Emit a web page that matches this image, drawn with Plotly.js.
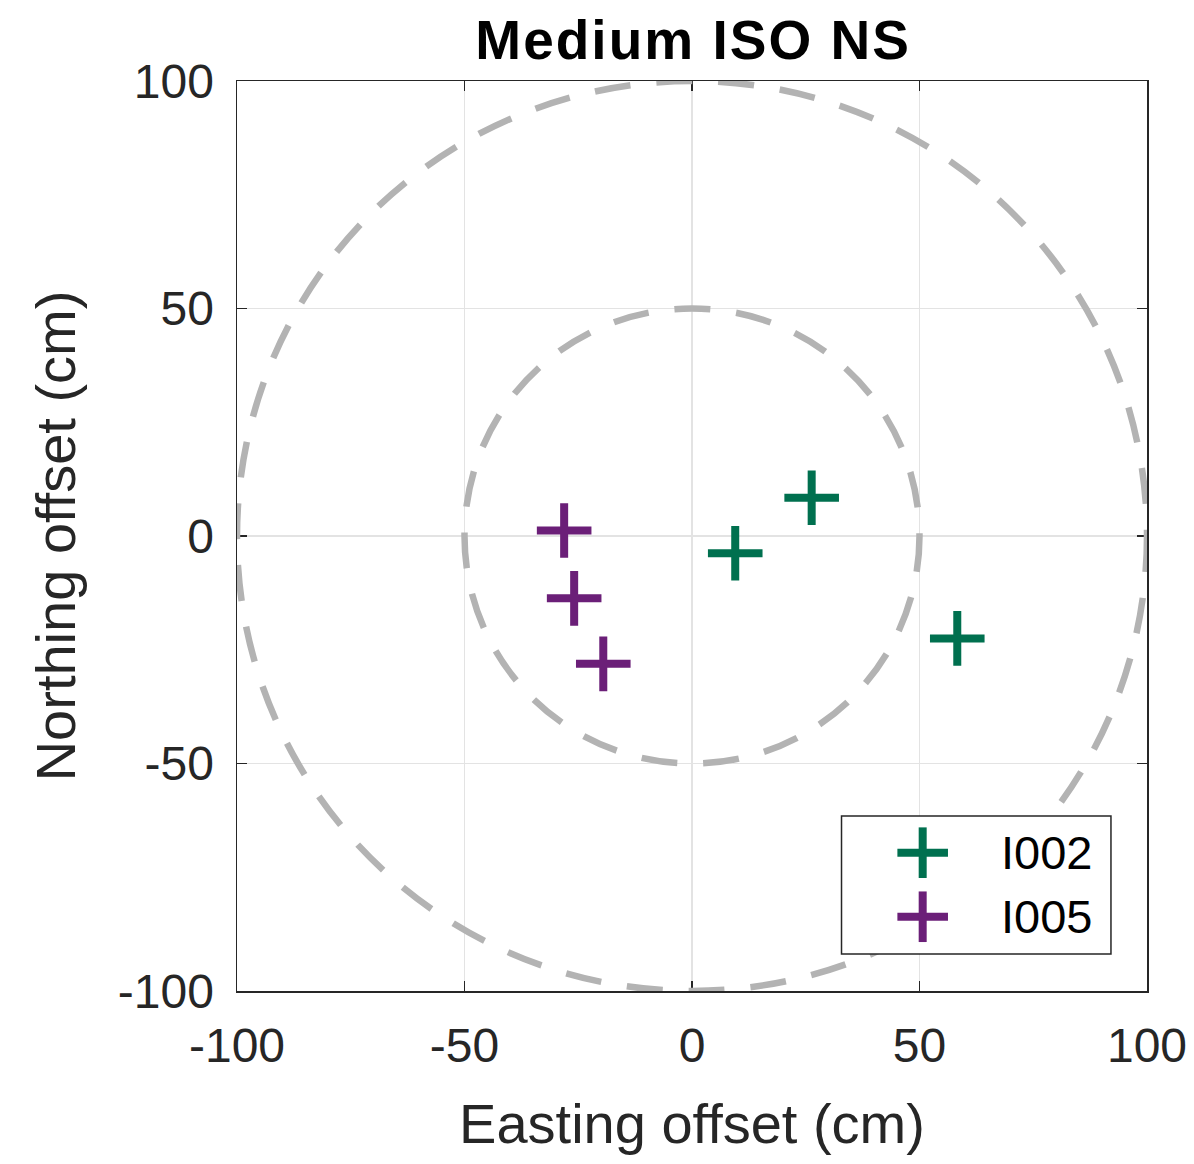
<!DOCTYPE html>
<html>
<head>
<meta charset="utf-8">
<script src="https://cdn.plot.ly/plotly-3.0.1.min.js"></script>
<style>
html,body{margin:0;padding:0;background:#fff;}
#chart{width:1194px;height:1164px;}
#chart .gtitle{letter-spacing:2px;}
</style>
</head>
<body>
<div id="chart"></div>
<script>
// Data
const seriesNames = ["I002", "I005"];
const i002East = [26.3, 9.5, 58.3];
const i002North = [8.4, -3.8, -22.5];
const i005East = [-28.1, -25.9, -19.5];
const i005North = [1.2, -13.7, -28.1];
const circleRadii = [50, 100];
const tickVals = [-100, -50, 0, 50, 100];
const tickText = ["-100", "-50", "0", "50", "100"];

const colors = ["#00704f", "#6b1f78"];
const font = "Liberation Sans, Arial, sans-serif";
const markerStyle = (c) => ({symbol: "cross-thin-open", size: 39, line: {color: c, width: 8}, color: c});

const traces = [
  {x: i002East, y: i002North, name: seriesNames[0], mode: "markers", type: "scatter", marker: markerStyle(colors[0]), showlegend: false},
  {x: i005East, y: i005North, name: seriesNames[1], mode: "markers", type: "scatter", marker: markerStyle(colors[1]), showlegend: false}
];

const shapes = circleRadii.map(r => ({
  type: "circle", xref: "x", yref: "y", x0: -r, x1: r, y0: -r, y1: r,
  line: {color: "#b3b3b3", width: 6.5, dash: "36px,26px"}, layer: "above"
}));

// Manual legend (box + large cross glyphs + labels), positioned in paper coordinates
const legendBox = {x0: 0.6643, x1: 0.9604, y0: 0.0407, y1: 0.1923};
const legendGlyphX = 0.7535, legendHalf = 0.0278, legendHalfY = 0.0278;
const legendRowsY = [0.1520, 0.0816];
const legendTextX = 0.8378;
const annotations = [];
shapes.push({type: "rect", xref: "paper", yref: "paper", x0: legendBox.x0, x1: legendBox.x1, y0: legendBox.y0, y1: legendBox.y1,
  line: {color: "#262626", width: 1.5}, fillcolor: "#fff", layer: "above"});
seriesNames.forEach((n, i) => {
  const yc = legendRowsY[i];
  shapes.push({type: "line", xref: "paper", yref: "paper", x0: legendGlyphX - legendHalf, x1: legendGlyphX + legendHalf, y0: yc, y1: yc, line: {color: colors[i], width: 8}, layer: "above"});
  shapes.push({type: "line", xref: "paper", yref: "paper", x0: legendGlyphX, x1: legendGlyphX, y0: yc - legendHalfY, y1: yc + legendHalfY, line: {color: colors[i], width: 8}, layer: "above"});
  annotations.push({xref: "paper", yref: "paper", x: legendTextX, y: yc, xanchor: "left", yanchor: "middle", showarrow: false,
    text: n, font: {family: font, size: 47, color: "#000"}});
});

const axisCommon = {
  range: [-100, 100], tickvals: tickVals, ticktext: tickText,
  showgrid: true, gridcolor: "#e3e3e3", gridwidth: 1.5,
  zeroline: false, showline: true, linecolor: "#262626", linewidth: 1.5, mirror: "ticks",
  ticks: "inside", ticklen: 10, tickwidth: 1.5, tickcolor: "#262626",
  tickfont: {family: font, size: 48, color: "#262626"}, fixedrange: true
};

const layout = {
  width: 1194, height: 1164,
  margin: {l: 237, r: 47, t: 81, b: 173},
  paper_bgcolor: "#fff", plot_bgcolor: "#fff",
  title: {text: "<b>Medium ISO NS</b>", font: {family: font, size: 55, color: "#000"}, x: 0.5805, xanchor: "center", y: 0.9655, yanchor: "middle"},
  xaxis: Object.assign({}, axisCommon, {title: {text: "Easting offset (cm)", font: {family: font, size: 56, color: "#262626"}, standoff: 32}, ticklabelstandoff: 12}),
  yaxis: Object.assign({}, axisCommon, {title: {text: "Northing offset (cm)", font: {family: font, size: 56, color: "#262626"}, standoff: 24}, ticklabelstandoff: 12}),
  shapes: shapes,
  annotations: annotations,
  showlegend: false,
  font: {family: font}
};

Plotly.newPlot("chart", traces, layout, {displayModeBar: false, staticPlot: true});
</script>
</body>
</html>
